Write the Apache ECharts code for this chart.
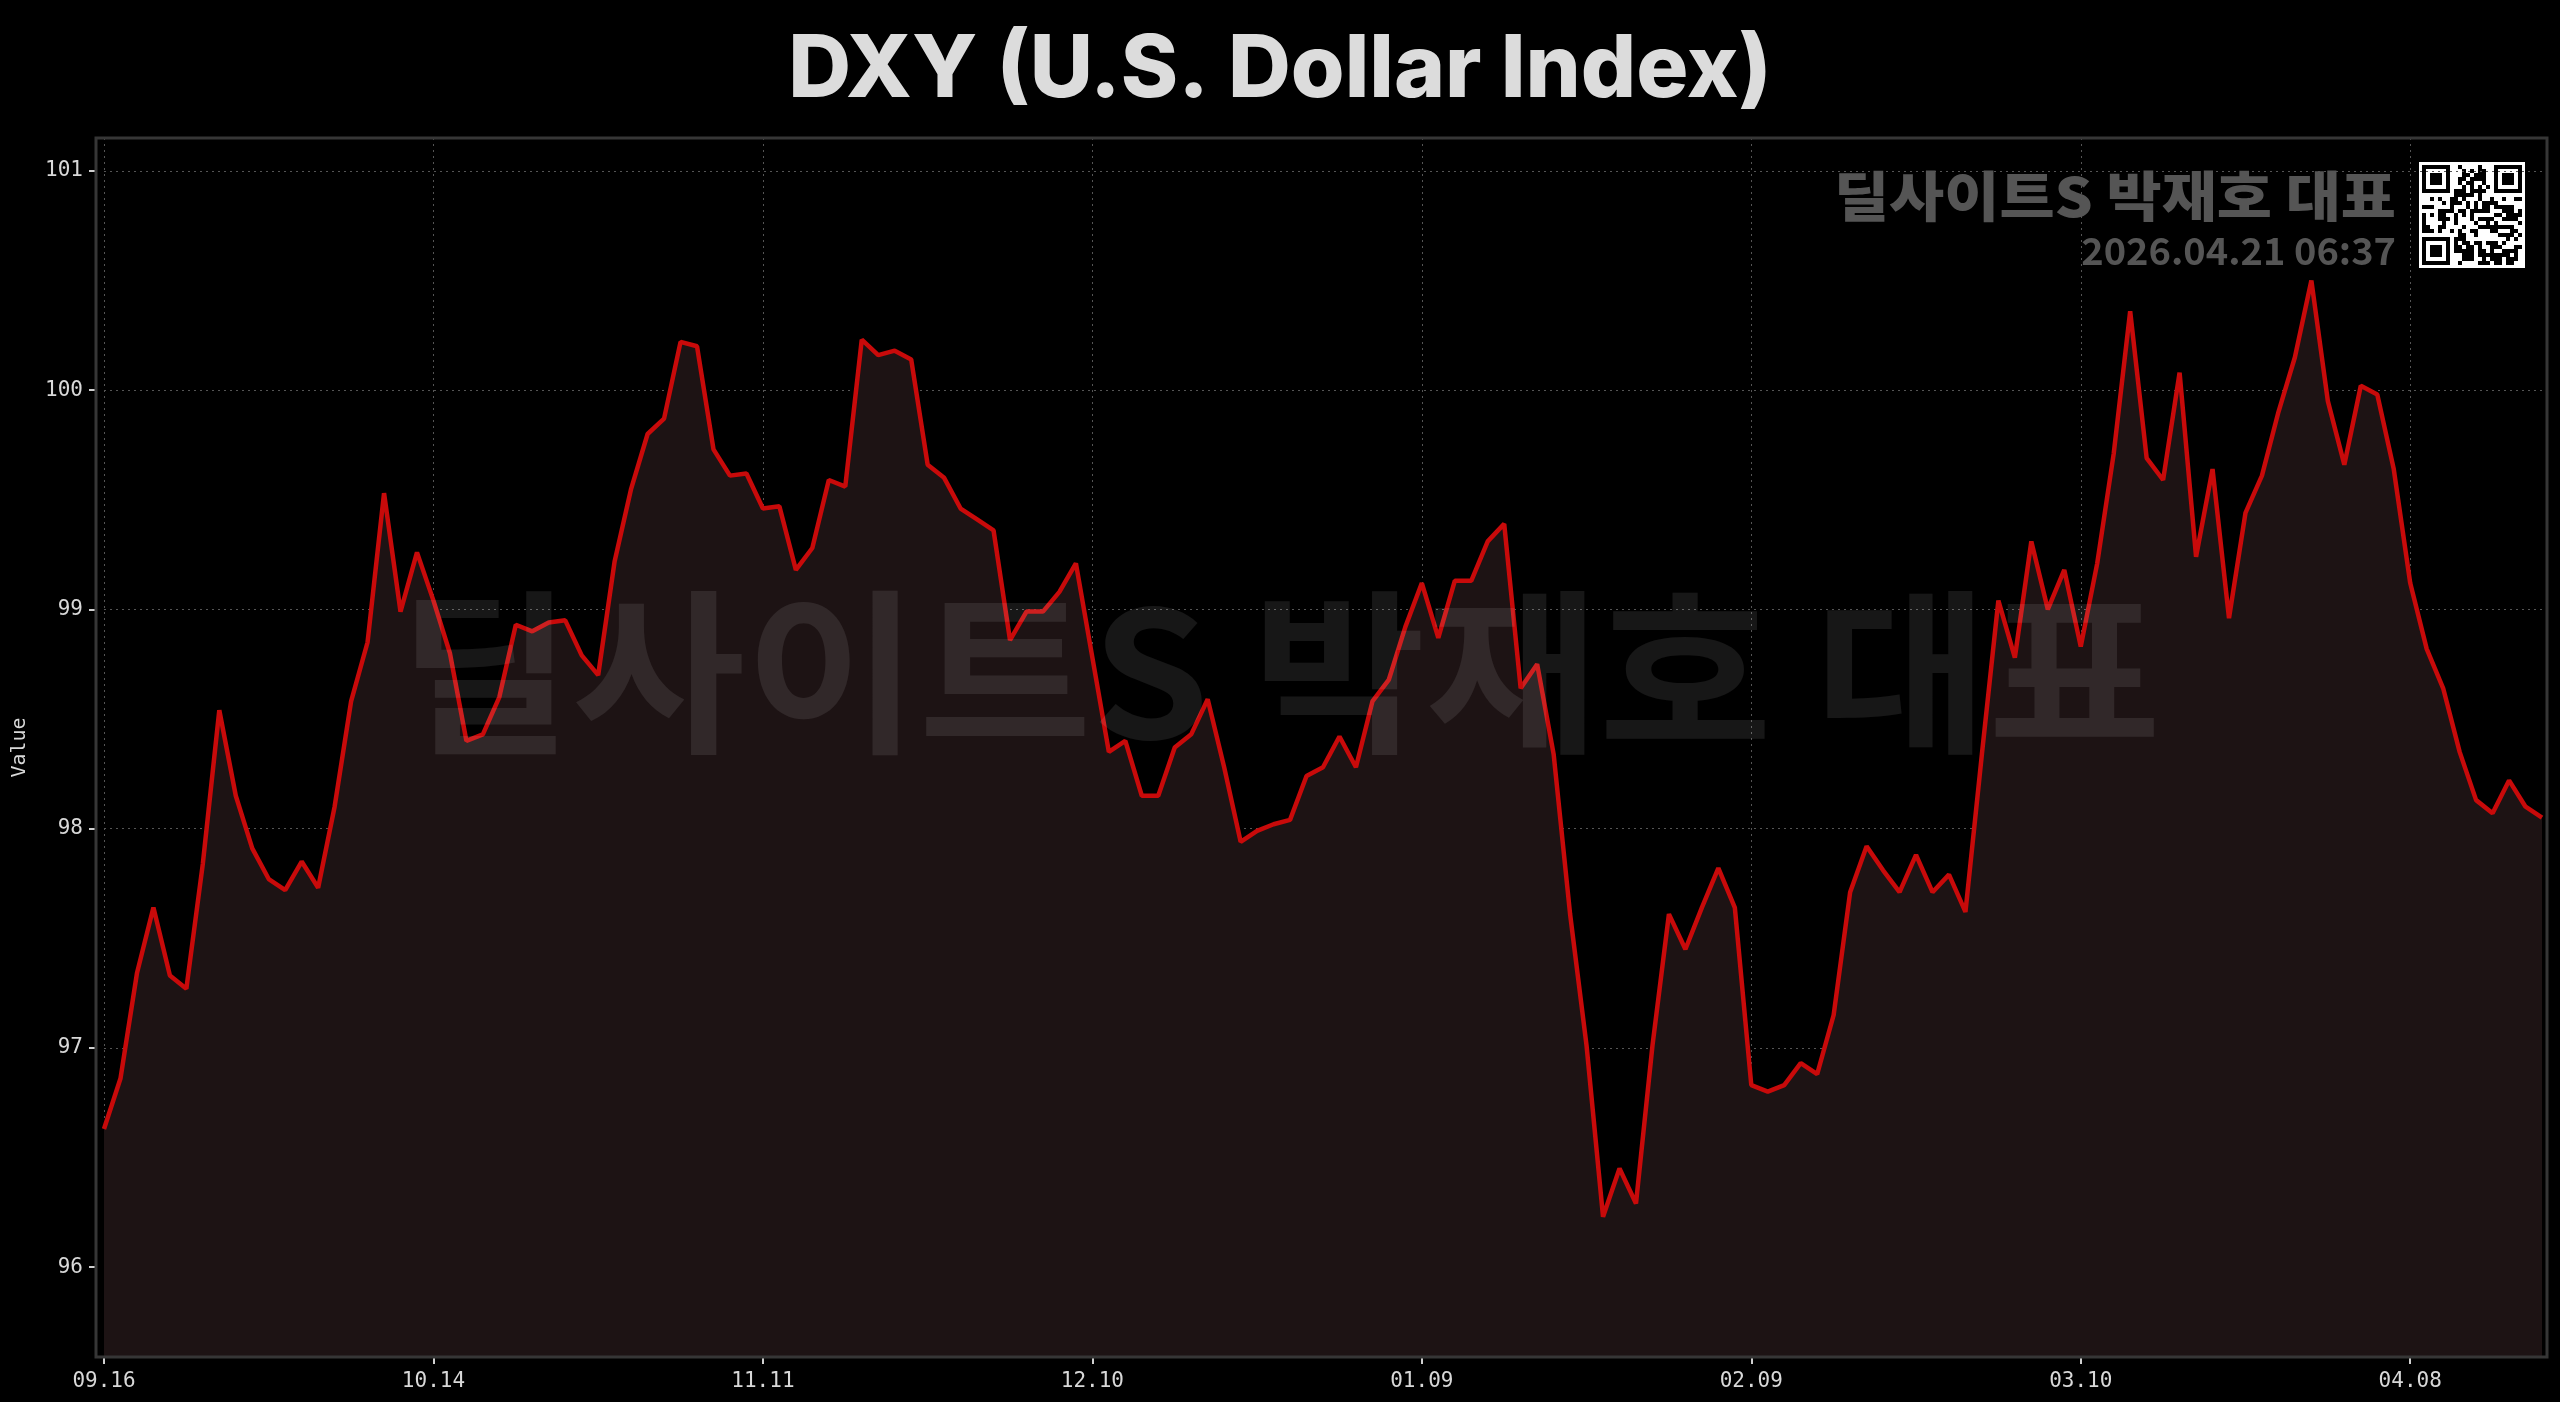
<!DOCTYPE html>
<html><head><meta charset="utf-8">
<script src="https://cdn.jsdelivr.net/npm/echarts@6/dist/echarts.min.js"></script>
<style>html,body{margin:0;padding:0;background:#000;}#c{width:2560px;height:1402px;}</style>
</head><body><div id="c"></div>
<script>
const dates = [
 '09.16','09.17','09.18','09.19','09.22','09.23','09.24','09.25','09.26','09.29','09.30',
 '10.01','10.02','10.03','10.06','10.07','10.08','10.09','10.10','10.13','10.14','10.15','10.16','10.17','10.20','10.21','10.22','10.23','10.24','10.27','10.28','10.29','10.30','10.31',
 '11.03','11.04','11.05','11.06','11.07','11.10','11.11','11.12','11.13','11.14','11.17','11.18','11.19','11.20','11.21','11.24','11.25','11.26','11.28',
 '12.01','12.02','12.03','12.04','12.05','12.08','12.09','12.10','12.11','12.12','12.15','12.16','12.17','12.18','12.19','12.22','12.23','12.24','12.26','12.29','12.30','12.31',
 '01.02','01.05','01.06','01.07','01.08','01.09','01.12','01.13','01.14','01.15','01.16','01.20','01.21','01.22','01.23','01.26','01.27','01.28','01.29','01.30',
 '02.02','02.03','02.04','02.05','02.06','02.09','02.10','02.11','02.12','02.13','02.17','02.18','02.19','02.20','02.23','02.24','02.25','02.26','02.27',
 '03.02','03.03','03.04','03.05','03.06','03.09','03.10','03.11','03.12','03.13','03.16','03.17','03.18','03.19','03.20','03.23','03.24','03.25','03.26','03.27','03.30','03.31',
 '04.01','04.02','04.06','04.07','04.08','04.09','04.10','04.13','04.14','04.15','04.16','04.17','04.20'
];
const values = [
 96.63,96.86,97.34,97.64,97.33,97.27,97.84,98.54,98.15,97.91,
 97.77,97.72,97.85,97.73,98.10,98.58,98.85,99.53,98.99,99.26,
 99.04,98.80,98.40,98.43,98.60,98.93,98.90,98.94,98.95,98.79,
 98.70,99.22,99.55,99.80,99.87,100.22,100.20,99.73,99.61,99.62,
 99.46,99.47,99.18,99.28,99.59,99.56,100.23,100.16,100.18,100.14,
 99.66,99.60,99.46,99.41,99.36,98.86,98.99,98.99,99.08,99.21,
 98.78,98.35,98.40,98.15,98.15,98.37,98.43,98.59,98.28,97.94,
 97.99,98.02,98.04,98.24,98.28,98.42,98.28,98.58,98.68,98.92,
 99.12,98.87,99.13,99.13,99.31,99.39,98.64,98.75,98.34,97.61,
 97.01,96.23,96.45,96.29,97.01,97.61,97.45,97.64,97.82,97.64,
 96.83,96.80,96.83,96.93,96.88,97.15,97.71,97.92,97.81,97.71,
 97.88,97.71,97.79,97.62,98.34,99.04,98.78,99.31,99.00,99.18,
 98.83,99.21,99.71,100.36,99.69,99.59,100.08,99.24,99.64,98.96,
 99.44,99.61,99.90,100.15,100.50,99.95,99.66,100.02,99.98,99.64,
 99.12,98.82,98.64,98.35,98.13,98.07,98.22,98.10,98.05
];
const yTickValues = [96, 97, 98, 99, 100, 101];
const titleText = 'DXY (U.S. Dollar Index)';
const yName = 'Value';
const watermarkText = '딜사이트S 박재호 대표';
const stampText = '2026.04.21 06:37';

// decorative QR-like badge
function qrChildren(x0, y0, box) {
  const n = 25, m = 4, off = 3;
  const kids = [{type:'rect', shape:{x:x0, y:y0, width:box, height:box}, style:{fill:'#ffffff'}}];
  let seed = 12345;
  const rnd = () => { seed = (seed * 1103515245 + 12345) % 2147483648; return seed / 2147483648; };
  const inFinder = (r, c) => (r < 8 && c < 8) || (r < 8 && c >= n - 8) || (r >= n - 8 && c < 8);
  const finder = (r0, c0) => {
    kids.push({type:'rect', shape:{x:x0+off+c0*m, y:y0+off+r0*m, width:7*m, height:7*m}, style:{fill:'#000'}});
    kids.push({type:'rect', shape:{x:x0+off+(c0+1)*m, y:y0+off+(r0+1)*m, width:5*m, height:5*m}, style:{fill:'#fff'}});
    kids.push({type:'rect', shape:{x:x0+off+(c0+2)*m, y:y0+off+(r0+2)*m, width:3*m, height:3*m}, style:{fill:'#000'}});
  };
  for (let r = 0; r < n; r++) for (let c = 0; c < n; c++) {
    if (inFinder(r, c)) continue;
    if (rnd() < 0.5) kids.push({type:'rect', shape:{x:x0+off+c*m, y:y0+off+r*m, width:m, height:m}, style:{fill:'#000'}});
  }
  finder(0, 0); finder(0, n - 7); finder(n - 7, 0);
  return kids;
}

const chart = echarts.init(document.getElementById('c'), null, {renderer:'canvas'});
const mono = 'DejaVu Sans Mono';
const gridLine = {color:'#555555', type:[2, 4], width:1};
const option = {
  backgroundColor: '#000000',
  animation: false,
  title: {
    text: titleText, left: 'center', top: 22,
    textStyle: {color:'#dcdcdc', fontFamily:'Inter', fontWeight:800, fontSize:87}
  },
  grid: {left:104, right:18, top:138, bottom:45, containLabel:false},
  xAxis: {
    type:'category', data:dates, boundaryGap:false,
    axisLine:{show:false},
    axisTick:{show:true, interval:19, length:7, lineStyle:{color:'#d0d0d0', width:2}},
    axisLabel:{interval:19, color:'#d8d8d8', fontFamily:mono, fontSize:21, margin:14},
    splitLine:{show:true, interval:19, lineStyle:gridLine}
  },
  yAxis: {
    type:'value', min:95.59, max:101.15, scale:true, offset:8,
    name:yName, nameLocation:'middle', nameGap:66,
    nameTextStyle:{color:'#d8d8d8', fontFamily:mono, fontSize:20},
    axisLine:{show:false},
    axisTick:{show:true, customValues:yTickValues, length:7, lineStyle:{color:'#d0d0d0', width:2}},
    axisLabel:{customValues:yTickValues, color:'#d8d8d8', fontFamily:mono, fontSize:21, margin:13},
    splitLine:{show:true, lineStyle:gridLine}
  },
  series: [{
    type:'line', data:values, symbol:'none', smooth:false, z:3,
    lineStyle:{color:'#c80a0a', width:4.5},
    areaStyle:{color:'#1d1314', origin:'start', opacity:1}
  }],
  graphic: [
    {type:'rect', z:50, silent:true, shape:{x:96, y:138, width:2451, height:1219}, style:{fill:'none', stroke:'#363636', lineWidth:3}},
    {type:'text', z:40, silent:true, x:1280, y:672, scaleX:1.07, style:{text:watermarkText, align:'center', verticalAlign:'middle', fill:'rgba(255,255,255,0.09)', font:'bold 176px "Noto Sans CJK KR"'}},
    {type:'text', z:60, silent:true, x:2396, y:196, scaleX:1.11, style:{text:watermarkText, align:'right', verticalAlign:'middle', fill:'#555555', font:'900 54px "Noto Sans CJK KR"'}},
    {type:'text', z:60, silent:true, x:2396, y:251, style:{text:stampText, align:'right', verticalAlign:'middle', fill:'#555555', font:'bold 38px "Noto Sans CJK KR"'}},
    {type:'group', z:60, silent:true, children: qrChildren(2419, 162, 106)}
  ]
};
chart.setOption(option);
</script>
</body></html>
